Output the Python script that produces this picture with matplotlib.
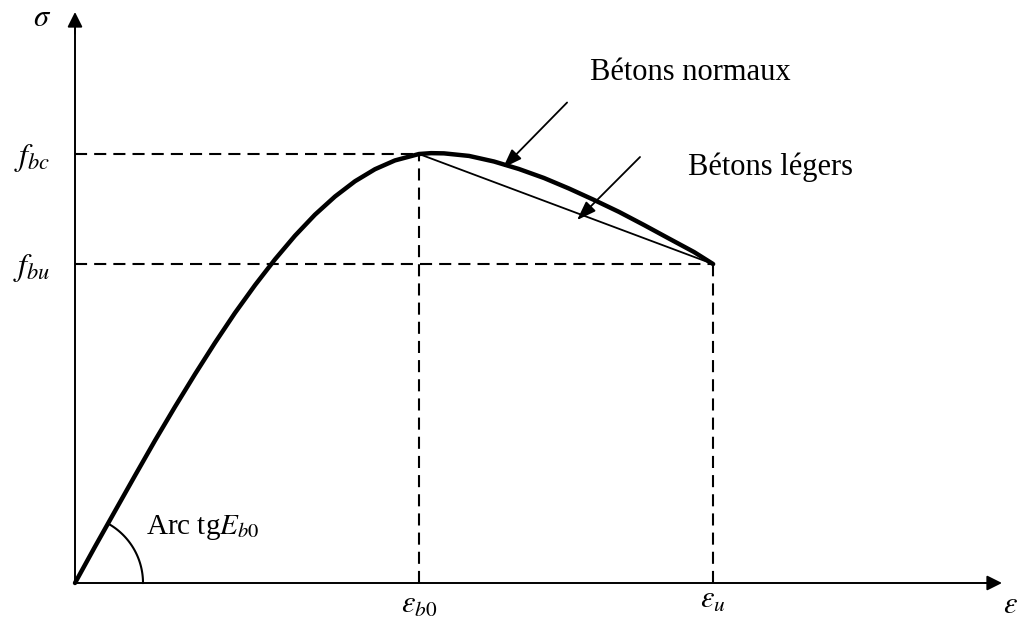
import numpy as np
import matplotlib
matplotlib.use("Agg")
import matplotlib.pyplot as plt

# Diagramme contrainte-deformation du beton
plt.rcParams['mathtext.fontset'] = 'stix'
plt.rcParams['font.family'] = ['Liberation Serif', 'DejaVu Serif']

# valeurs caracteristiques (deformation en pour mille, contrainte en MPa)
eps_b0 = 2.0
eps_u = 3.71
f_bc = 20.0
f_bu = 14.87

# courbe des betons normaux, relevee point par point
eps_normal = [0.0, 0.116, 0.233, 0.349, 0.465, 0.581, 0.698, 0.814, 0.930,
              1.047, 1.163, 1.279, 1.395, 1.512, 1.628, 1.744, 1.860, 2.0,
              2.070, 2.145, 2.291, 2.436, 2.581, 2.727, 2.872, 3.017, 3.163,
              3.308, 3.453, 3.599, 3.71]
sig_normal = [0.0, 1.69, 3.36, 5.01, 6.64, 8.21, 9.74, 11.20, 12.59,
              13.89, 15.09, 16.19, 17.17, 18.02, 18.73, 19.29, 19.70, 20.0,
              20.04, 20.03, 19.91, 19.65, 19.30, 18.88, 18.39, 17.86, 17.30,
              16.69, 16.06, 15.43, 14.87]

# betons legers : droite entre le pic et la rupture
eps_leger = [eps_b0, eps_u]
sig_leger = [f_bc, f_bu]

# echelles : pixels par unite
px_x = 172.0
px_y = 21.45

fig = plt.figure(figsize=(10.22, 6.25), dpi=100)
ax = fig.add_axes([0, 0, 1, 1])
ax.set_xlim(-75 / px_x, 947 / px_x)
ax.set_ylim(-42 / px_y, 583 / px_y)
ax.axis('off')

# axes avec fleches
x_end = 927 / px_x
y_end = 571 / px_y
ax.plot([0, x_end - 0.08], [0, 0], color='black', lw=1.4)
ax.plot([0, 0], [0, y_end - 0.7], color='black', lw=1.4)
ax.annotate('', xy=(x_end, 0), xytext=(x_end - 0.1, 0),
            arrowprops=dict(arrowstyle='-|>,head_length=0.9,head_width=0.45',
                            color='black', lw=1.4, shrinkA=0, shrinkB=0))
ax.annotate('', xy=(0, y_end), xytext=(0, y_end - 1.0),
            arrowprops=dict(arrowstyle='-|>,head_length=0.9,head_width=0.45',
                            color='black', lw=1.4, shrinkA=0, shrinkB=0))

# lignes de rappel en tirets
tirets = dict(color='black', lw=1.5, dashes=(5.8, 3.4))
ax.plot([0, eps_b0], [f_bc, f_bc], **tirets)
ax.plot([0, eps_u], [f_bu, f_bu], **tirets)
ax.plot([eps_b0, eps_b0], [0, f_bc], **tirets)
ax.plot([eps_u, eps_u], [0, f_bu], **tirets)

# courbes
ax.plot(eps_normal, sig_normal, color='black', lw=3.2,
        solid_capstyle='round', solid_joinstyle='round')
ax.plot(eps_leger, sig_leger, color='black', lw=1.3)

# arc de l'angle a l'origine
r = 68
t = np.radians(np.linspace(0, 61, 60))
ax.plot(r * np.cos(t) / px_x, r * np.sin(t) / px_y, color='black', lw=1.5)
ax.text(0.413, 2.61, r'Arc tg$E_{b0}$', fontsize=21, va='center', ha='left')

# fleches des legendes
fl = dict(arrowstyle='-|>,head_length=0.9,head_width=0.32', color='black',
          lw=1.3, shrinkA=0, shrinkB=0, mutation_scale=13)
ax.annotate('', xy=(2.488, 19.35), xytext=(2.861, 22.4), arrowprops=fl)
ax.annotate('', xy=(2.919, 16.92), xytext=(3.285, 19.86), arrowprops=fl)
ax.text(2.994, 23.82, 'Bétons normaux', fontsize=22, va='center', ha='left')
ax.text(3.564, 19.39, 'Bétons légers', fontsize=22, va='center', ha='left')

# etiquettes mathematiques
ax.text(-0.192, 26.34, r'$\sigma$', fontsize=22, ha='center', va='center')
ax.text(-0.25, 19.8, r'$f_{bc}$', fontsize=23, ha='center', va='center')
ax.text(-0.25, 14.7, r'$f_{bu}$', fontsize=23, ha='center', va='center')
ax.text(eps_b0, -1.03, r'$\varepsilon_{b0}$', fontsize=22, ha='center', va='center')
ax.text(eps_u, -0.8, r'$\varepsilon_{u}$', fontsize=22, ha='center', va='center')
ax.text(5.436, -1.03, r'$\varepsilon$', fontsize=22, ha='center', va='center')

fig.savefig('out.png', dpi=100)
